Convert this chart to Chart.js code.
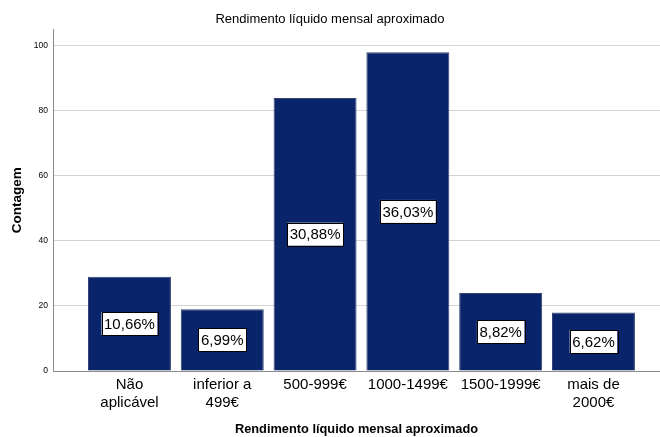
<!DOCTYPE html>
<html lang="pt">
<head>
<meta charset="UTF-8">
<title>Rendimento líquido mensal aproximado</title>
<script src="https://cdn.jsdelivr.net/npm/chart.js"></script>
<style>
  html, body { margin: 0; padding: 0; background: #fff; }
  #wrap { width: 660px; height: 437px; }
</style>
</head>
<body>
<div id="wrap"><canvas id="grafico"></canvas></div>
<script>
// dados
const categorias = [['Não', 'aplicável'], ['inferior a', '499€'], '500-999€', '1000-1499€', '1500-1999€', ['mais de', '2000€']];
const contagens = [29, 19, 84, 98, 24, 18];
const ticksY = [0, 20, 40, 60, 80, 100];

const total = contagens.reduce((a, b) => a + b, 0);
const fonte = '"Liberation Sans", Arial, sans-serif';

// etiquetas de percentagem no meio de cada barra
const etiquetas = {
    id: 'etiquetas',
    afterDatasetsDraw(chart) {
        const ctx = chart.ctx;
        const meta = chart.getDatasetMeta(0);
        ctx.save();
        ctx.font = '15px ' + fonte;
        ctx.textAlign = 'center';
        ctx.textBaseline = 'middle';
        meta.data.forEach((bar, i) => {
            const txt = (contagens[i] / total * 100).toFixed(2).replace('.', ',') + '%';
            const w = ctx.measureText(txt).width + 5;
            const h = 23;
            const cy = (bar.y + bar.base) / 2;
            ctx.fillStyle = '#fff';
            ctx.fillRect(bar.x - w / 2, cy - h / 2, w, h);
            ctx.strokeStyle = '#000';
            ctx.lineWidth = 1;
            ctx.strokeRect(Math.round(bar.x - w / 2) + 0.5, Math.round(cy - h / 2) + 0.5, Math.round(w), h);
            ctx.fillStyle = '#000';
            ctx.fillText(txt, bar.x, cy + 1);
        });
        ctx.restore();
    }
};

new Chart(document.getElementById('grafico'), {
    type: 'bar',
    data: {
        datasets: [{
            label: 'Contagem',
            data: contagens.map((v, i) => ({ x: i, y: v })),
            backgroundColor: '#0a246b',
            borderColor: '#36436e',
            borderWidth: 1,
            barPercentage: 0.894,
            categoryPercentage: 1
        }]
    },
    options: {
        responsive: true,
        maintainAspectRatio: false,
        animation: false,
        layout: { padding: 0 },
        plugins: {
            legend: { display: false },
            tooltip: { enabled: false },
            title: {
                display: true,
                text: 'Rendimento líquido mensal aproximado',
                color: '#000',
                font: { family: fonte, size: 13, weight: 'normal' },
                padding: { top: 12, bottom: 2 }
            }
        },
        scales: {
            x: {
                type: 'linear',
                offset: false,
                min: -0.824,
                max: 5.717,
                afterBuildTicks: s => { s.ticks = categorias.map((c, i) => ({ value: i })); },
                afterFit: s => { s.height = 66; },
                grid: { display: false, drawTicks: false, offset: false },
                border: { color: '#8c8c8c', width: 1 },
                ticks: {
                    autoSkip: false,
                    maxRotation: 0,
                    padding: 5,
                    color: '#000',
                    font: { family: fonte, size: 15 },
                    callback: v => categorias[v]
                },
                title: {
                    display: true,
                    text: 'Rendimento líquido mensal aproximado',
                    color: '#000',
                    font: { family: fonte, size: 12.8, weight: 'bold' },
                    padding: { top: 0, bottom: 0 }
                }
            },
            y: {
                min: 0,
                max: 105,
                afterFit: s => { s.width = 53; },
                afterBuildTicks: s => { s.ticks = ticksY.map(v => ({ value: v })); },
                grid: { color: '#d4d4d4', drawTicks: false },
                border: { color: '#8c8c8c', width: 1 },
                ticks: {
                    padding: 5,
                    color: '#000',
                    font: { family: fonte, size: 8.5 }
                },
                title: {
                    display: true,
                    text: 'Contagem',
                    color: '#000',
                    font: { family: fonte, size: 13.5, weight: 'bold' },
                    padding: { top: 9, bottom: 0 }
                }
            }
        }
    },
    plugins: [etiquetas]
});
</script>
</body>
</html>
